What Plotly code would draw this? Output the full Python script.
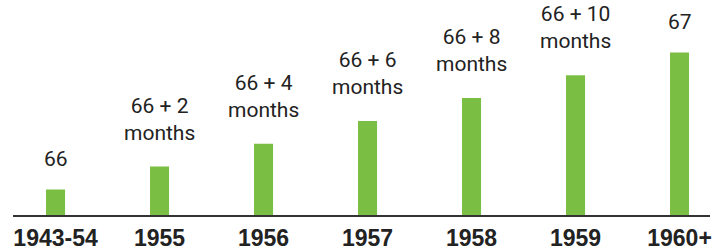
import plotly.graph_objects as go

# ---- data -------------------------------------------------------------
categories = ["1943-54", "1955", "1956", "1957", "1958", "1959", "1960+"]
age_years = [66, 66, 66, 66, 66, 66, 67]
extra_months = [0, 2, 4, 6, 8, 10, 0]
age_labels = ["66", "66 + 2<br>months", "66 + 4<br>months", "66 + 6<br>months",
              "66 + 8<br>months", "66 + 10<br>months", "67"]

# full retirement age expressed in months
values = [y * 12 + m for y, m in zip(age_years, extra_months)]

# ---- style ------------------------------------------------------------
BAR_COLOR = "#7abf43"
TEXT_COLOR = "#222222"
AXIS_COLOR = "#333333"
LABEL_FONT = dict(family="Roboto, 'Liberation Sans', Arial, sans-serif", size=21, color=TEXT_COLOR)
TICK_FONT = dict(family="'Liberation Sans', Arial, sans-serif", size=23, color=TEXT_COLOR)
SHIFT_SINGLE = 16   # px above bar for one-line labels
SHIFT_DOUBLE = 20   # px above bar for two-line labels

fig = go.Figure(
    go.Bar(
        x=categories,
        y=values,
        marker=dict(color=BAR_COLOR, line=dict(width=0)),
        width=0.183,
        hoverinfo="skip",
    )
)

annotations = []
for i, (v, lab) in enumerate(zip(values, age_labels)):
    # category axis: annotation x given as the category index
    shift = SHIFT_DOUBLE if "<br>" in lab else SHIFT_SINGLE
    annotations.append(dict(x=i, y=v, xref="x", yref="y", text=lab, showarrow=False,
                            xanchor="center", yanchor="bottom", align="center",
                            yshift=shift, font=LABEL_FONT))

fig.update_layout(
    width=722,
    height=251,
    margin=dict(l=13, r=12, t=0, b=36, autoexpand=False),
    paper_bgcolor="white",
    plot_bgcolor="white",
    showlegend=False,
    annotations=annotations,
    xaxis=dict(
        type="category",
        range=[-0.409, 6.293],
        showline=True,
        linecolor=AXIS_COLOR,
        linewidth=1.5,
        showgrid=False,
        zeroline=False,
        ticks="",
        tickfont=dict(TICK_FONT, weight="bold"),
        ticklabelstandoff=2,
        automargin=False,
    ),
    yaxis=dict(
        range=[789.76, 808.59],
        visible=False,
        showgrid=False,
        zeroline=False,
        automargin=False,
    ),
)

fig.write_html(
    "out.html",
    config={"displayModeBar": False},
    post_script="document.body.style.margin='0';document.body.style.padding='0';",
)
